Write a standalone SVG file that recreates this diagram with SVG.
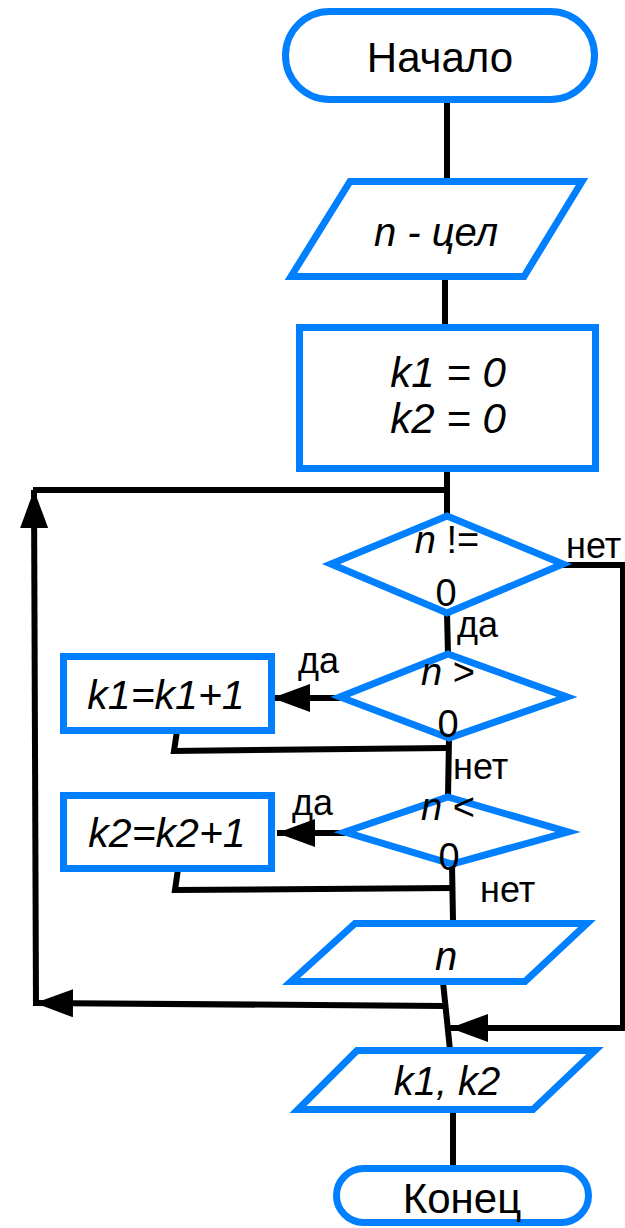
<svg xmlns="http://www.w3.org/2000/svg" width="625" height="1228" viewBox="0 0 625 1228">
<style>
.node{fill:#ffffff;stroke:#0080ff;stroke-width:7;stroke-linejoin:miter}
.conn{fill:none;stroke:#000000;stroke-width:6;stroke-linejoin:miter}
.t{font-family:"Liberation Sans",Arial,sans-serif;fill:#000000}
.big{font-size:42px}
.mid{font-size:38px}
.lbl{font-size:36px}
.it{font-style:italic}
.c{text-anchor:middle}
</style>
<defs>
<marker id="arr" markerUnits="userSpaceOnUse" markerWidth="40" markerHeight="30" refX="38" refY="14" orient="auto">
<path d="M0,0 L38,14 L0,28 z" fill="#000000"/>
</marker>
</defs>
<g id="connectors">
<path class="conn" d="M447,103 L447,181"/>
<path class="conn" d="M445,279 L445,325"/>
<path class="conn" d="M447,471 L447,516"/>
<path class="conn" d="M447,490 L33,490"/>
<path class="conn" d="M36,1006 L34,490" marker-end="url(#arr)"/>
<path class="conn" d="M447,613 L448,654"/>
<path class="conn" d="M563,565 L623,565 L623,1028 L450,1028" marker-end="url(#arr)"/>
<path class="conn" d="M340,698 L272,698" marker-end="url(#arr)"/>
<path class="conn" d="M177,731 L174,751 L447,748"/>
<path class="conn" d="M449,738 L448,797"/>
<path class="conn" d="M345,833 L277,833" marker-end="url(#arr)"/>
<path class="conn" d="M178,869 L175,890 L453,888"/>
<path class="conn" d="M452,864 L453,921"/>
<path class="conn" d="M443,982 L450,1050"/>
<path class="conn" d="M443,1006 L35,1003" marker-end="url(#arr)"/>
<path class="conn" d="M453,1110 L453,1168"/>
</g>
<g id="start">
<rect class="node" x="285.5" y="11.5" width="309" height="88" rx="44" ry="44"/>
<text class="t big c" x="440" y="72">Начало</text>
</g>
<g id="input-n">
<polygon class="node" points="350,181.5 582,181.5 524,276.5 291,276.5"/>
<text class="t big it c" x="436" y="246" style="font-size:40px">n - цел</text>
</g>
<g id="init">
<rect class="node" x="299.5" y="327.5" width="296" height="141"/>
<text class="t big it c" x="448" y="387">k1 = 0</text>
<text class="t big it c" x="448" y="433">k2 = 0</text>
</g>
<g id="cond-ne">
<polygon class="node" points="447,516 563,564 447,613 331,564"/>
<text class="t mid c" x="447" y="553"><tspan font-style="italic">n</tspan> !=</text>
<text class="t mid c" x="446" y="606">0</text>
<text class="t lbl" x="566" y="558">нет</text>
<text class="t lbl" x="457" y="637">да</text>
</g>
<g id="cond-gt">
<polygon class="node" points="448,654 567,697 449,738 340,697"/>
<text class="t mid c" x="448" y="685"><tspan font-style="italic">n</tspan> &gt;</text>
<text class="t mid c" x="448" y="737">0</text>
<text class="t lbl" x="298" y="673">да</text>
<text class="t lbl" x="453" y="779">нет</text>
</g>
<g id="inc-k1">
<rect class="node" x="63.5" y="656.5" width="208" height="74"/>
<text class="t it c" x="166" y="709" style="font-size:41px">k1=k1+1</text>
</g>
<g id="cond-lt">
<polygon class="node" points="448,797 568,832 452,864 345,832"/>
<text class="t mid c" x="448" y="820"><tspan font-style="italic">n</tspan> &lt;</text>
<text class="t mid c" x="449" y="870">0</text>
<text class="t lbl" x="292" y="815">да</text>
<text class="t lbl" x="480" y="902">нет</text>
</g>
<g id="inc-k2">
<rect class="node" x="63.5" y="795.5" width="208" height="73"/>
<text class="t it c" x="167" y="847" style="font-size:41px">k2=k2+1</text>
</g>
<g id="input-n2">
<polygon class="node" points="355,923.5 587,923.5 525,981.5 291,981.5"/>
<text class="t big it c" x="446" y="970" style="font-size:40px">n</text>
</g>
<g id="output">
<polygon class="node" points="357,1050.5 595,1050.5 533,1109.5 298,1109.5"/>
<text class="t big it c" x="447" y="1095" style="font-size:40px">k1, k2</text>
</g>
<g id="end">
<rect class="node" x="336.5" y="1168.5" width="252" height="54" rx="27" ry="27"/>
<text class="t big c" x="462" y="1213">Конец</text>
</g>
</svg>
